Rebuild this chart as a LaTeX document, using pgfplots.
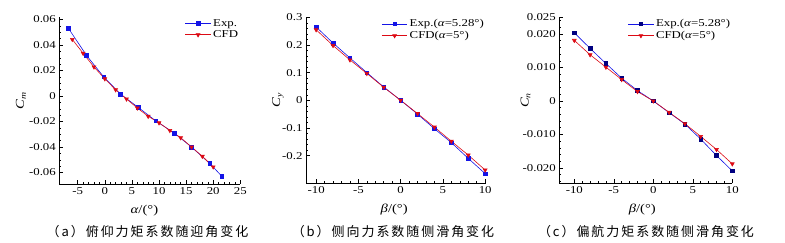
\documentclass[border=0pt]{standalone}
\usepackage{fontspec}
\setmainfont{Liberation Serif}[FakeStretch=1.22]
\newfontfamily\cjk[LetterSpace=15]{Noto Sans CJK SC}
\usepackage{pgfplots}
\pgfplotsset{compat=1.18}
\definecolor{expb}{RGB}{20,20,230}
\definecolor{cfdr}{RGB}{220,10,20}
\pgfplotsset{
  mystyle/.style={
    scale only axis,
    axis x line*=bottom, axis y line*=left,
    axis line style={-, line width=0.8pt},
    tick align=inside,
    major tick length=4pt, minor tick length=2pt,
    every tick/.style={black, line width=0.5pt},
    tick label style={font=\fontsize{10.5}{12}\selectfont},
    label style={font=\fontsize{12}{13}\selectfont},
    /pgf/number format/assume math mode=true,
    scaled ticks=false,
    legend style={draw=none, fill=none, at={(1.0,1.0)}, anchor=north east,
      font=\fontsize{10.5}{11}\selectfont, inner sep=0pt, row sep=-1pt,
      /tikz/every even column/.append style={column sep=2pt}},
    legend cell align=left,
    legend image code/.code={
      \draw[mark repeat=2,mark phase=2] plot coordinates {(0cm,0cm) (0.45cm,0cm) (0.9cm,0cm)};},
  },
  expst/.style={color=expb, line width=0.6pt, mark=square*, mark size=1.8pt, mark options={fill=expb, draw=expb}},
  cfdst/.style={color=cfdr, line width=0.6pt, mark=triangle*, mark size=2.2pt, mark options={rotate=180, fill=cfdr, draw=cfdr}},
}
\begin{document}
\begin{tikzpicture}
\useasboundingbox (0pt,0pt) rectangle (785pt,243pt);
% (a)
\begin{axis}[mystyle, at={(59.3pt,59pt)}, anchor=south west, width=181pt, height=167pt,
  xmin=-8.4, xmax=25, ymin=-0.069, ymax=0.062,
  xtick={-5,0,...,25}, minor x tick num=4,
  ytick={-0.06,-0.04,...,0.061}, minor y tick num=3,
  yticklabel style={/pgf/number format/fixed, /pgf/number format/precision=2},
  xlabel={\textit{α}/(°)}, ylabel={\textit{C}\textsubscript{\textit{m}}},
  xlabel style={at={(axis description cs:0.47,-0.16)}, anchor=center},
  ylabel style={at={(axis description cs:-0.212,0.5)}, anchor=center, rotate=0},
]
\addplot[expst] coordinates {(-6.7,0.053) (-3.4,0.032) (-0.2,0.015) (2.9,0.0015) (6.2,-0.009) (9.4,-0.0195) (12.8,-0.029) (16.0,-0.040) (19.4,-0.053) (21.6,-0.063)};
\addlegendentry{Exp.}
\addplot[cfdst] coordinates {(-6,0.0444) (-4,0.0335) (-2,0.0228) (0,0.0135) (2,0.0049) (4,-0.0023) (6,-0.0094) (8,-0.0159) (10,-0.021) (12,-0.027) (14,-0.0327) (16,-0.040) (18,-0.0473) (20,-0.0556)};
\addlegendentry{CFD}
\end{axis}
% (b)
\begin{axis}[mystyle, at={(306pt,59.7pt)}, anchor=south west, width=180pt, height=166pt,
  xmin=-11.2, xmax=10.1, ymin=-0.3, ymax=0.3,
  xtick={-10,-5,...,10}, minor x tick num=4,
  ytick={-0.2,-0.1,...,0.31}, minor y tick num=4,
  yticklabel style={/pgf/number format/fixed, /pgf/number format/precision=1},
  xlabel={\textit{β}/(°)}, ylabel={\textit{C}\textsubscript{\textit{y}}},
  xlabel style={at={(axis description cs:0.49,-0.16)}, anchor=center},
  ylabel style={at={(axis description cs:-0.156,0.5)}, anchor=center, rotate=0},
]
\addplot[expst] coordinates {(-10,0.265) (-8,0.207) (-6,0.153) (-4,0.100) (-2,0.048) (0,0) (2,-0.050) (4,-0.103) (6,-0.153) (8,-0.210) (10,-0.265)};
\addlegendentry{Exp.(\textit{α}=5.28°)}
\addplot[cfdst] coordinates {(-10,0.255) (-8,0.198) (-6,0.146) (-4,0.097) (-2,0.047) (0,0) (2,-0.048) (4,-0.097) (6,-0.148) (8,-0.198) (10,-0.252)};
\addlegendentry{CFD(\textit{α}=5°)}
\end{axis}
% (c)
\begin{axis}[mystyle, at={(559.3pt,59.7pt)}, anchor=south west, width=173pt, height=166pt,
  xmin=-11.9, xmax=10, ymin=-0.0246, ymax=0.025,
  xtick={-10,-5,...,10}, minor x tick num=4,
  ytick={-0.02,-0.01,0,0.01,0.02,0.025},
  yticklabels={-0.020,-0.010,0,0.010,0.020,0.025},
  minor ytick={-0.024,-0.022,...,0.0241},
  xlabel={\textit{β}/(°)}, ylabel={\textit{C}\textsubscript{\textit{n}}},
  xlabel style={at={(axis description cs:0.48,-0.16)}, anchor=center},
  ylabel style={at={(axis description cs:-0.195,0.5)}, anchor=center, rotate=0},
]
\addplot[expst, mark options={fill=blue!50!black, draw=blue!50!black}] coordinates {(-10,0.0204) (-8,0.0157) (-6,0.0112) (-4,0.0068) (-2,0.0031) (0,0) (2,-0.0035) (4,-0.0069) (6,-0.0114) (8,-0.0163) (10,-0.0209)};
\addlegendentry{Exp.(\textit{α}=5.28°)}
\addplot[cfdst] coordinates {(-10,0.0181) (-8,0.0138) (-6,0.0101) (-4,0.0064) (-2,0.0028) (0,0) (2,-0.0034) (4,-0.0068) (6,-0.0106) (8,-0.0145) (10,-0.0188)};
\addlegendentry{CFD(\textit{α}=5°)}
\end{axis}
\node[font=\cjk\fontsize{13}{14}\selectfont, anchor=center] at (147.5pt,11.3pt) {（a）俯仰力矩系数随迎角变化};
\node[font=\cjk\fontsize{13}{14}\selectfont, anchor=center] at (393pt,11.3pt) {（b）侧向力系数随侧滑角变化};
\node[font=\cjk\fontsize{13}{14}\selectfont, anchor=center] at (646pt,11.3pt) {（c）偏航力矩系数随侧滑角变化};
\end{tikzpicture}
\end{document}
